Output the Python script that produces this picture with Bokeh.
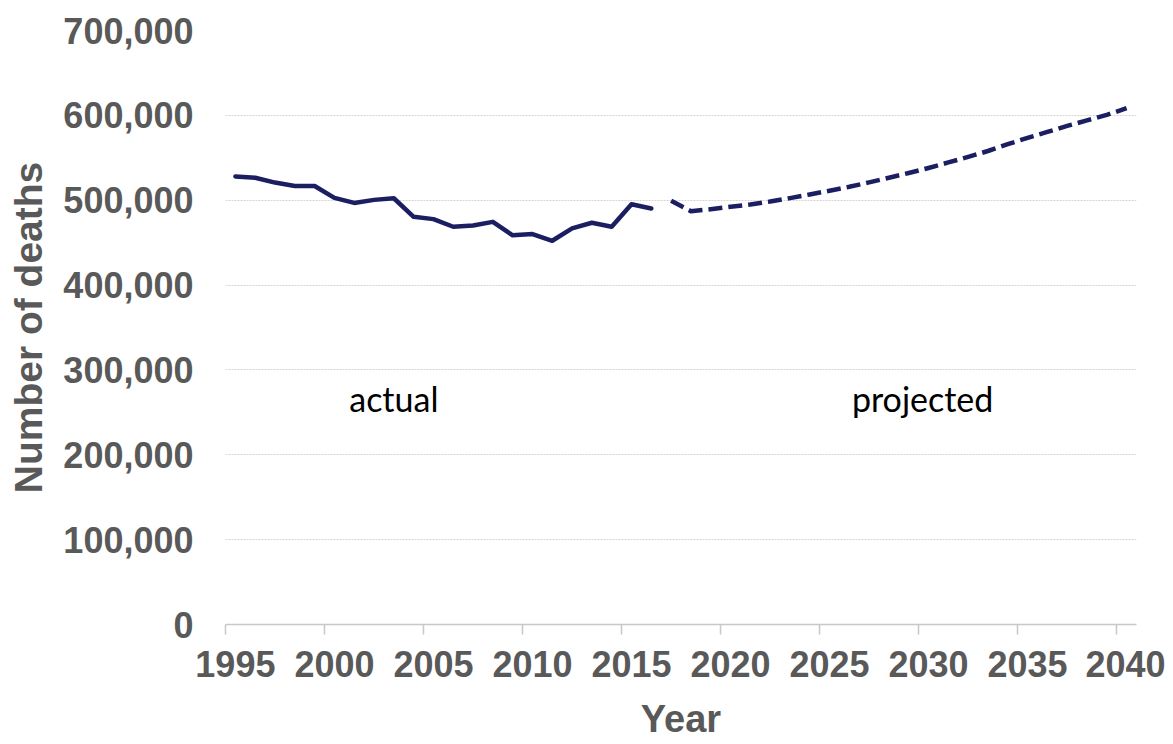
from bokeh.plotting import figure
from bokeh.models import Range1d, FixedTicker, NumeralTickFormatter, Label
from bokeh.embed import file_html
from bokeh.resources import INLINE

# ---- data ----
years_actual = list(range(1995, 2017))
deaths_actual = [528000, 526500, 520800, 516800, 516800,
                 502700, 496800, 500400, 502300, 480400,
                 477700, 468700, 470300, 474500, 458600,
                 460100, 452200, 466800, 473400, 468700,
                 495300, 490200]
years_projected = list(range(2017, 2041))
deaths_projected = [499400, 487100, 489400, 492200, 495000, 498400,
                    502500, 506800, 511200, 515800, 521000, 526500,
                    532000, 538000, 544500, 551000, 558000, 566000,
                    573500, 580500, 587500, 594000, 600500, 608500]
x_tick_years = [1995, 2000, 2005, 2010, 2015, 2020, 2025, 2030, 2035, 2040]
y_ticks = [0, 100000, 200000, 300000, 400000, 500000, 600000, 700000]
label_actual = "actual"
label_projected = "projected"

LINE = "#1b1f62"
GREY = "#595959"

p = figure(width=1165, height=742, output_backend="svg", toolbar_location=None,
           x_range=Range1d(1994.5, 2040.5), y_range=Range1d(0, 700000),
           min_border_left=225, min_border_right=29, min_border_top=30,
           min_border_bottom=116)
p.outline_line_color = None
p.background_fill_color = "white"
p.border_fill_color = "white"

p.line(years_actual, deaths_actual, line_color=LINE, line_width=4.5,
       line_join="round", line_cap="round")
p.line(years_projected, deaths_projected, line_color=LINE, line_width=4.5,
       line_dash="14 6", line_join="round")

# x axis: category-style slots; tick marks at slot boundaries
xt = FixedTicker(ticks=x_tick_years, minor_ticks=[y - 0.5 for y in x_tick_years])
p.xaxis.ticker = xt
p.xaxis.axis_line_color = "#c8c8c8"
p.xaxis.axis_line_width = 1.5
p.xaxis.major_tick_line_color = None
p.xaxis.major_tick_out = 0
p.xaxis.major_tick_in = 0
p.xaxis.minor_tick_line_color = "#c8c8c8"
p.xaxis.minor_tick_line_width = 1.5
p.xaxis.minor_tick_out = 10
p.xaxis.minor_tick_in = 0
p.xaxis.major_label_text_font = "Liberation Sans"
p.xaxis.major_label_text_font_style = "bold"
p.xaxis.major_label_text_font_size = "36px"
p.xaxis.major_label_text_color = GREY
p.xaxis.major_label_standoff = 16
p.xaxis.axis_label = "Year"
p.xaxis.axis_label_text_font = "Liberation Sans"
p.xaxis.axis_label_text_font_style = "bold"
p.xaxis.axis_label_text_font_size = "38px"
p.xaxis.axis_label_text_color = GREY
p.xaxis.axis_label_standoff = 18

p.yaxis.ticker = FixedTicker(ticks=y_ticks)
p.yaxis.formatter = NumeralTickFormatter(format="0,0")
p.yaxis.axis_line_color = None
p.yaxis.major_tick_line_color = None
p.yaxis.minor_tick_line_color = None
p.yaxis.major_tick_out = 0
p.yaxis.major_tick_in = 0
p.yaxis.major_label_text_font = "Liberation Sans"
p.yaxis.major_label_text_font_style = "bold"
p.yaxis.major_label_text_font_size = "36px"
p.yaxis.major_label_text_color = GREY
p.yaxis.major_label_standoff = 32
p.yaxis.axis_label = "Number of deaths"
p.yaxis.axis_label_text_font = "Liberation Sans"
p.yaxis.axis_label_text_font_style = "bold"
p.yaxis.axis_label_text_font_size = "39px"
p.yaxis.axis_label_text_color = GREY
p.yaxis.axis_label_standoff = 10

p.xgrid.grid_line_color = None
p.ygrid.grid_line_color = "#d4d4d4"
p.ygrid.grid_line_width = 1
p.ygrid.grid_line_dash = "2 1"

for txt, xpos in [(label_actual, 2003), (label_projected, 2029.7)]:
    p.add_layout(Label(x=xpos, y=266000, text=txt, text_align="center",
                       text_baseline="alphabetic", text_font="Lato",
                       text_font_size="34px", text_color="black"))

open("out.html", "w").write(file_html(p, INLINE))
